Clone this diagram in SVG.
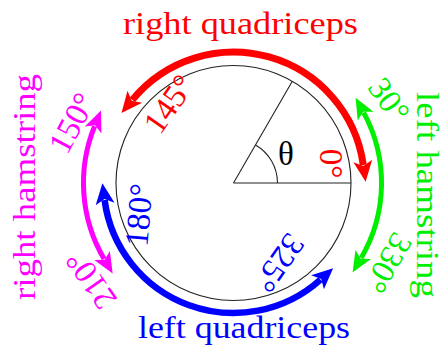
<svg xmlns="http://www.w3.org/2000/svg" width="447" height="352" viewBox="0 0 447 352">
  <style>
    .lbl { font-family: "Liberation Serif", "Times New Roman", serif; font-size: 32px; }
    .ang { font-family: "Liberation Serif", "Times New Roman", serif; font-size: 33px; text-anchor: middle; dominant-baseline: central; }
    .arc { fill: none; }
  </style>
  <defs>
    <marker id="hr" markerUnits="userSpaceOnUse" viewBox="0 -11 22 22" markerWidth="22" markerHeight="22" refX="4" refY="0" orient="auto-start-reverse">
      <path d="M21,0 L0,-9.5 L5,0 L0,9.5 Z" fill="#ff0000"/>
    </marker>
    <marker id="hg" markerUnits="userSpaceOnUse" viewBox="0 -11 22 22" markerWidth="22" markerHeight="22" refX="4" refY="0" orient="auto-start-reverse">
      <path d="M21,0 L0,-9 L5,0 L0,9 Z" fill="#00ee00"/>
    </marker>
    <marker id="hm" markerUnits="userSpaceOnUse" viewBox="0 -11 22 22" markerWidth="22" markerHeight="22" refX="4" refY="0" orient="auto-start-reverse">
      <path d="M21,0 L0,-9 L5,0 L0,9 Z" fill="#ff00ff"/>
    </marker>
    <marker id="hb" markerUnits="userSpaceOnUse" viewBox="0 -11 22 22" markerWidth="22" markerHeight="22" refX="4" refY="0" orient="auto-start-reverse">
      <path d="M21,0 L0,-9.5 L5,0 L0,9.5 Z" fill="#0000ff"/>
    </marker>
  </defs>

  <g id="circle">
    <circle cx="233.5" cy="183" r="117.5" fill="none" stroke="#222" stroke-width="1.1"/>
    <line x1="233.5" y1="183" x2="351" y2="183" stroke="#222" stroke-width="1.1"/>
    <line x1="233.5" y1="183" x2="292.3" y2="81.2" stroke="#222" stroke-width="1.1"/>
    <path d="M277.5,183 A44,44 0 0 0 255.5,144.9" fill="none" stroke="#222" stroke-width="1.1"/>
    <text x="286" y="154" class="ang" fill="#000" font-size="28">θ</text>
  </g>

  <g id="connectors">
    <path class="arc" d="M132.3,99.9 A131,131 0 0 1 363.3,165.0" stroke="#ff0000" stroke-width="7" marker-start="url(#hr)" marker-end="url(#hr)"/>
    <path class="arc" d="M363.7,112.6 A148,148 0 0 1 361.2,257.9" stroke="#00ee00" stroke-width="5" marker-start="url(#hg)" marker-end="url(#hg)"/>
    <path class="arc" d="M94.6,126.3 A150,150 0 0 0 104.1,258.9" stroke="#ff00ff" stroke-width="5" marker-start="url(#hm)" marker-end="url(#hm)"/>
    <path class="arc" d="M104.6,200 A130,130 0 0 0 320.5,279.6" stroke="#0000ff" stroke-width="6.5" marker-start="url(#hb)" marker-end="url(#hb)"/>
  </g>

  <g id="right-quadriceps">
    <text class="lbl" x="123" y="34" fill="#ff0000" textLength="235" lengthAdjust="spacingAndGlyphs">right quadriceps</text>
    <text class="ang" transform="translate(169,104) rotate(-55)" fill="#ff0000">145°</text>
    <text class="ang" transform="translate(331,163.5) rotate(90)" fill="#ff0000">0°</text>
  </g>

  <g id="left-hamstring">
    <text class="lbl" transform="translate(417,92) rotate(90)" fill="#00ee00" textLength="206" lengthAdjust="spacingAndGlyphs">left hamstring</text>
    <text class="ang" transform="translate(389,100) rotate(55)" fill="#00ee00">30°</text>
    <text class="ang" transform="translate(388,263) rotate(120)" fill="#00ee00">330°</text>
  </g>

  <g id="right-hamstring">
    <text class="lbl" transform="translate(35,300) rotate(-90)" fill="#ff00ff" textLength="226" lengthAdjust="spacingAndGlyphs">right hamstring</text>
    <text class="ang" transform="translate(72,123) rotate(-62)" fill="#ff00ff">150°</text>
    <text class="ang" transform="translate(91,280) rotate(-125)" fill="#ff00ff">210°</text>
  </g>

  <g id="left-quadriceps">
    <text class="lbl" x="138" y="338" fill="#0000ff" textLength="212" lengthAdjust="spacingAndGlyphs">left quadriceps</text>
    <text class="ang" transform="translate(139,215) rotate(-85)" fill="#0000ff">180°</text>
    <text class="ang" transform="translate(279,263) rotate(125)" fill="#0000ff">325°</text>
  </g>
</svg>
